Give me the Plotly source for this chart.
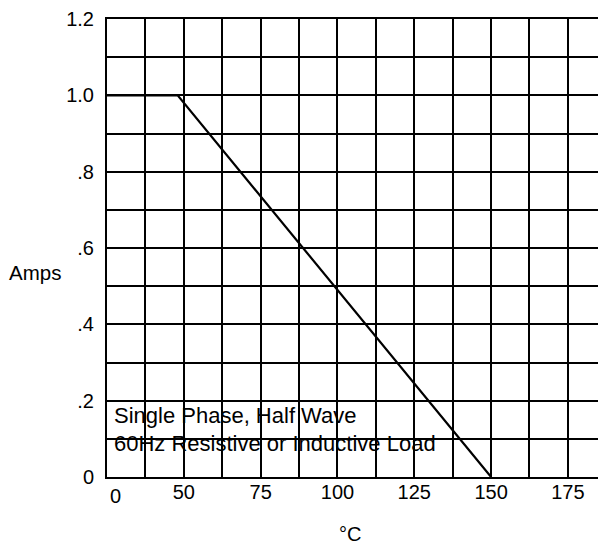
import numpy as np
import plotly.graph_objects as go

# ---- data ----
temps_c = [0, 48, 150]          # °C
amps = [1.0, 1.0, 0.0]          # A
x_tick_values = [0, 50, 75, 100, 125, 150, 175]
x_tick_labels = ["0", "50", "75", "100", "125", "150", "175"]
y_tick_values = [0, 0.2, 0.4, 0.6, 0.8, 1.0, 1.2]
y_tick_labels = ["0", ".2", ".4", ".6", ".8", "1.0", "1.2"]
note_lines = ["Single Phase, Half Wave", "60Hz Resistive or Inductive Load"]

# the temperature axis is broken: everything below 25 is drawn at the left edge
AXIS_BREAK = 25
def disp(t):
    return np.maximum(np.asarray(t, dtype=float), AXIS_BREAK)

FONT = "Arial, Liberation Sans, sans-serif"
BLACK = "#000000"

fig = go.Figure()
fig.add_trace(go.Scatter(
    x=disp(temps_c), y=amps, mode="lines",
    line=dict(color=BLACK, width=2.2), showlegend=False, hoverinfo="skip",
))

major_x = [v for v in x_tick_values if v >= AXIS_BREAK]
major_x_lbl = [l for v, l in zip(x_tick_values, x_tick_labels) if v >= AXIS_BREAK]

fig.update_xaxes(
    range=[AXIS_BREAK, 187.4],
    tickmode="array", tickvals=major_x, ticktext=major_x_lbl,
    ticks="", ticklabelstandoff=-4, ticklabeloverflow="allow",
    showgrid=True, gridcolor=BLACK, gridwidth=2,
    minor=dict(tickmode="linear", tick0=AXIS_BREAK, dtick=12.5,
               showgrid=True, gridcolor=BLACK, gridwidth=2, ticks=""),
    showline=True, linecolor=BLACK, linewidth=2, mirror=True,
    zeroline=False,
    tickfont=dict(family=FONT, size=20, color=BLACK),
)
fig.update_yaxes(
    range=[0, 1.2],
    tickmode="array", tickvals=y_tick_values, ticktext=y_tick_labels,
    ticks="", ticklabelstandoff=7, ticklabeloverflow="allow",
    showgrid=True, gridcolor=BLACK, gridwidth=2,
    minor=dict(tickmode="linear", tick0=0, dtick=0.1,
               showgrid=True, gridcolor=BLACK, gridwidth=2, ticks=""),
    showline=True, linecolor=BLACK, linewidth=2, mirror=False,
    zeroline=False,
    tickfont=dict(family=FONT, size=20, color=BLACK),
)

# "0" label at the broken left end of the temperature axis
fig.add_annotation(x=disp(0).item(), y=0, xref="x", yref="y", text=x_tick_labels[0],
                   showarrow=False, xanchor="center", yanchor="top",
                   xshift=8, yshift=-6, font=dict(family=FONT, size=20, color=BLACK))

# note text inside the grid
fig.add_annotation(x=AXIS_BREAK, y=0.160, xref="x", yref="y", text=note_lines[0],
                   showarrow=False, xanchor="left", yanchor="middle", xshift=5,
                   font=dict(family=FONT, size=22, color=BLACK))
fig.add_annotation(x=AXIS_BREAK, y=0.088, xref="x", yref="y", text=note_lines[1],
                   showarrow=False, xanchor="left", yanchor="middle", xshift=5,
                   font=dict(family=FONT, size=22, color=BLACK))

# axis titles
fig.add_annotation(x=0, y=0.446, xref="paper", yref="paper", text="Amps",
                   showarrow=False, xanchor="center", yanchor="middle", xshift=-72,
                   font=dict(family=FONT, size=20.5, color=BLACK))
fig.add_annotation(x=0.487, y=0, xref="paper", yref="paper", text="°C",
                   showarrow=False, xanchor="center", yanchor="middle", yshift=-57,
                   font=dict(family=FONT, size=20, color=BLACK))

# page body has an 8px margin: size the figure so the plot area lands where the reference has it
fig.update_layout(
    width=598, height=538,
    margin=dict(l=99, r=0, t=5, b=69, pad=0),
    paper_bgcolor="white", plot_bgcolor="white",
    showlegend=False,
)

fig.write_html("out.html")
